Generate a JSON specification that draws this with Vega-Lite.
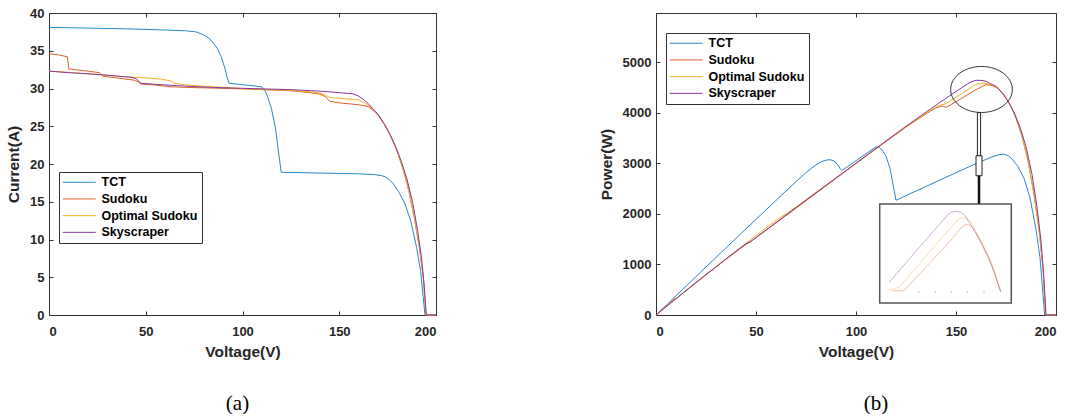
{
  "$schema": "https://vega.github.io/schema/vega-lite/v6.json",
  "background": "white",
  "padding": {"left": 6, "top": 6, "right": 5, "bottom": 0},
  "spacing": 159,
  "config": {
    "font": "Liberation Sans",
    "view": {"stroke": "#333333", "strokeWidth": 1},
    "axis": {
      "domain": false,
      "grid": false,
      "ticks": true,
      "tickSize": -4,
      "tickColor": "#333333",
      "tickWidth": 1,
      "labelFont": "Liberation Sans",
      "labelFontSize": 13,
      "labelFontWeight": "bold",
      "labelColor": "#262626",
      "titleFont": "Liberation Sans",
      "titleFontSize": 15.5,
      "titleFontWeight": "bold",
      "titleColor": "#262626"
    },
    "axisX": {"labelPadding": 14, "titlePadding": 6},
    "axisY": {"labelPadding": 9, "titlePadding": 8},
    "legend": {
      "title": null,
      "orient": "none",
      "symbolType": "M -3 0 H 3",
      "symbolSize": 121,
      "symbolOffset": 10,
      "symbolStrokeWidth": 1,
      "labelFont": "Liberation Sans",
      "labelFontSize": 12.5,
      "labelFontWeight": "bold",
      "labelColor": "#000000",
      "strokeColor": "#333333",
      "fillColor": "#ffffff",
      "padding": 4,
      "rowPadding": 3.7,
      "labelOffset": 16
    }
  },
  "datasets": {
    "curves": [
      {"s":"TCT","v":0,"i":38.1,"p":0},
      {"s":"TCT","v":20,"i":38.0,"p":760},
      {"s":"TCT","v":40,"i":37.9,"p":1516},
      {"s":"TCT","v":60,"i":37.75,"p":2265},
      {"s":"TCT","v":70,"i":37.65,"p":2636},
      {"s":"TCT","v":76,"i":37.5,"p":2850},
      {"s":"TCT","v":80,"i":37.1,"p":2968},
      {"s":"TCT","v":83,"i":36.6,"p":3038},
      {"s":"TCT","v":85,"i":36.0,"p":3060},
      {"s":"TCT","v":87,"i":35.3,"p":3071},
      {"s":"TCT","v":89,"i":34.2,"p":3044},
      {"s":"TCT","v":91,"i":32.6,"p":2967},
      {"s":"TCT","v":92,"i":31.5,"p":2898},
      {"s":"TCT","v":93,"i":30.7,"p":2855},
      {"s":"TCT","v":100,"i":30.5,"p":3050},
      {"s":"TCT","v":106,"i":30.35,"p":3217},
      {"s":"TCT","v":110,"i":30.2,"p":3322},
      {"s":"TCT","v":111.5,"i":29.8,"p":3323},
      {"s":"TCT","v":113,"i":28.9,"p":3266},
      {"s":"TCT","v":115,"i":27.3,"p":3140},
      {"s":"TCT","v":117,"i":24.8,"p":2902},
      {"s":"TCT","v":118.5,"i":21.8,"p":2583},
      {"s":"TCT","v":120,"i":18.9,"p":2268},
      {"s":"TCT","v":130,"i":18.85,"p":2451},
      {"s":"TCT","v":150,"i":18.75,"p":2813},
      {"s":"TCT","v":160,"i":18.7,"p":2992},
      {"s":"TCT","v":168,"i":18.6,"p":3125},
      {"s":"TCT","v":172,"i":18.45,"p":3173},
      {"s":"TCT","v":174,"i":18.28,"p":3181},
      {"s":"TCT","v":176,"i":17.9,"p":3150},
      {"s":"TCT","v":178,"i":17.35,"p":3088},
      {"s":"TCT","v":181,"i":16.2,"p":2932},
      {"s":"TCT","v":184,"i":14.7,"p":2705},
      {"s":"TCT","v":187,"i":12.4,"p":2319},
      {"s":"TCT","v":190,"i":8.9,"p":1691},
      {"s":"TCT","v":192,"i":5.9,"p":1133},
      {"s":"TCT","v":194.3,"i":0,"p":0},
      {"s":"TCT","v":200,"i":0,"p":0},

      {"s":"Sudoku","v":0,"i":34.6,"p":0},
      {"s":"Sudoku","v":5,"i":34.45,"p":172},
      {"s":"Sudoku","v":9.5,"i":34.2,"p":325},
      {"s":"Sudoku","v":10.2,"i":32.6,"p":333},
      {"s":"Sudoku","v":20,"i":32.3,"p":646},
      {"s":"Sudoku","v":26,"i":32.1,"p":835},
      {"s":"Sudoku","v":28,"i":31.6,"p":885},
      {"s":"Sudoku","v":35,"i":31.4,"p":1099},
      {"s":"Sudoku","v":44,"i":31.1,"p":1368},
      {"s":"Sudoku","v":46,"i":30.9,"p":1421},
      {"s":"Sudoku","v":47.5,"i":30.6,"p":1454},
      {"s":"Sudoku","v":55,"i":30.45,"p":1675},
      {"s":"Sudoku","v":62,"i":30.25,"p":1876},
      {"s":"Sudoku","v":70,"i":30.15,"p":2111},
      {"s":"Sudoku","v":85,"i":30.05,"p":2554},
      {"s":"Sudoku","v":100,"i":29.95,"p":2995},
      {"s":"Sudoku","v":115,"i":29.8,"p":3427},
      {"s":"Sudoku","v":125,"i":29.7,"p":3713},
      {"s":"Sudoku","v":135,"i":29.45,"p":3976},
      {"s":"Sudoku","v":140,"i":29.25,"p":4095},
      {"s":"Sudoku","v":143,"i":28.9,"p":4133},
      {"s":"Sudoku","v":145,"i":28.3,"p":4104},
      {"s":"Sudoku","v":150,"i":28.1,"p":4215},
      {"s":"Sudoku","v":160,"i":27.85,"p":4456},
      {"s":"Sudoku","v":165,"i":27.6,"p":4554},
      {"s":"Sudoku","v":168,"i":27.0,"p":4536},
      {"s":"Sudoku","v":171,"i":26.2,"p":4480},
      {"s":"Sudoku","v":174,"i":25.0,"p":4350},
      {"s":"Sudoku","v":177,"i":23.5,"p":4160},
      {"s":"Sudoku","v":180,"i":21.6,"p":3888},
      {"s":"Sudoku","v":183,"i":19.3,"p":3532},
      {"s":"Sudoku","v":186,"i":16.4,"p":3050},
      {"s":"Sudoku","v":189,"i":12.6,"p":2381},
      {"s":"Sudoku","v":191.5,"i":8.8,"p":1685},
      {"s":"Sudoku","v":193.5,"i":4.8,"p":929},
      {"s":"Sudoku","v":194.8,"i":0,"p":0},
      {"s":"Sudoku","v":200,"i":0,"p":0},

      {"s":"Optimal Sudoku","v":0,"i":32.3,"p":0},
      {"s":"Optimal Sudoku","v":10,"i":32.15,"p":322},
      {"s":"Optimal Sudoku","v":20,"i":31.95,"p":639},
      {"s":"Optimal Sudoku","v":30,"i":31.75,"p":953},
      {"s":"Optimal Sudoku","v":40,"i":31.55,"p":1262},
      {"s":"Optimal Sudoku","v":50,"i":31.4,"p":1570},
      {"s":"Optimal Sudoku","v":58,"i":31.25,"p":1813},
      {"s":"Optimal Sudoku","v":63,"i":31.0,"p":1953},
      {"s":"Optimal Sudoku","v":65,"i":30.7,"p":1996},
      {"s":"Optimal Sudoku","v":70,"i":30.5,"p":2135},
      {"s":"Optimal Sudoku","v":80,"i":30.3,"p":2424},
      {"s":"Optimal Sudoku","v":90,"i":30.15,"p":2714},
      {"s":"Optimal Sudoku","v":100,"i":30.0,"p":3000},
      {"s":"Optimal Sudoku","v":115,"i":29.85,"p":3433},
      {"s":"Optimal Sudoku","v":125,"i":29.75,"p":3719},
      {"s":"Optimal Sudoku","v":135,"i":29.55,"p":3989},
      {"s":"Optimal Sudoku","v":140,"i":29.4,"p":4116},
      {"s":"Optimal Sudoku","v":143,"i":29.1,"p":4161},
      {"s":"Optimal Sudoku","v":145,"i":28.8,"p":4176},
      {"s":"Optimal Sudoku","v":150,"i":28.7,"p":4305},
      {"s":"Optimal Sudoku","v":160,"i":28.5,"p":4560},
      {"s":"Optimal Sudoku","v":163,"i":28.1,"p":4580},
      {"s":"Optimal Sudoku","v":165,"i":27.75,"p":4579},
      {"s":"Optimal Sudoku","v":167,"i":27.3,"p":4559},
      {"s":"Optimal Sudoku","v":170,"i":26.5,"p":4505},
      {"s":"Optimal Sudoku","v":174,"i":25.05,"p":4359},
      {"s":"Optimal Sudoku","v":177,"i":23.55,"p":4168},
      {"s":"Optimal Sudoku","v":180,"i":21.65,"p":3897},
      {"s":"Optimal Sudoku","v":183,"i":19.35,"p":3541},
      {"s":"Optimal Sudoku","v":186,"i":16.45,"p":3060},
      {"s":"Optimal Sudoku","v":189,"i":12.65,"p":2391},
      {"s":"Optimal Sudoku","v":191.5,"i":8.85,"p":1695},
      {"s":"Optimal Sudoku","v":193.5,"i":4.85,"p":938},
      {"s":"Optimal Sudoku","v":194.8,"i":0,"p":0},
      {"s":"Optimal Sudoku","v":200,"i":0,"p":0},

      {"s":"Skyscraper","v":0,"i":32.3,"p":0},
      {"s":"Skyscraper","v":10,"i":32.1,"p":321},
      {"s":"Skyscraper","v":20,"i":31.95,"p":639},
      {"s":"Skyscraper","v":28,"i":31.8,"p":890},
      {"s":"Skyscraper","v":35,"i":31.65,"p":1108},
      {"s":"Skyscraper","v":42,"i":31.5,"p":1323},
      {"s":"Skyscraper","v":45,"i":31.3,"p":1409},
      {"s":"Skyscraper","v":47.5,"i":30.7,"p":1458},
      {"s":"Skyscraper","v":55,"i":30.55,"p":1680},
      {"s":"Skyscraper","v":65,"i":30.4,"p":1976},
      {"s":"Skyscraper","v":75,"i":30.25,"p":2269},
      {"s":"Skyscraper","v":90,"i":30.1,"p":2709},
      {"s":"Skyscraper","v":110,"i":29.95,"p":3295},
      {"s":"Skyscraper","v":125,"i":29.85,"p":3731},
      {"s":"Skyscraper","v":140,"i":29.65,"p":4151},
      {"s":"Skyscraper","v":150,"i":29.45,"p":4418},
      {"s":"Skyscraper","v":157,"i":29.3,"p":4600},
      {"s":"Skyscraper","v":160,"i":29.0,"p":4640},
      {"s":"Skyscraper","v":163,"i":28.45,"p":4637},
      {"s":"Skyscraper","v":165,"i":28.0,"p":4620},
      {"s":"Skyscraper","v":167,"i":27.4,"p":4576},
      {"s":"Skyscraper","v":170,"i":26.6,"p":4522},
      {"s":"Skyscraper","v":173,"i":25.4,"p":4394},
      {"s":"Skyscraper","v":176,"i":24.0,"p":4224},
      {"s":"Skyscraper","v":179,"i":22.4,"p":4010},
      {"s":"Skyscraper","v":182,"i":20.4,"p":3713},
      {"s":"Skyscraper","v":185,"i":18.0,"p":3330},
      {"s":"Skyscraper","v":188,"i":14.8,"p":2782},
      {"s":"Skyscraper","v":190.5,"i":11.2,"p":2134},
      {"s":"Skyscraper","v":192.5,"i":7.6,"p":1463},
      {"s":"Skyscraper","v":194,"i":3.6,"p":698},
      {"s":"Skyscraper","v":195,"i":0,"p":0},
      {"s":"Skyscraper","v":200,"i":0,"p":0}
    ],
    "inset": [
      {"s":"Sudoku","v":118.15,"p":480},
      {"s":"Sudoku","v":124,"p":480},
      {"s":"Sudoku","v":149,"p":1547},
      {"s":"Sudoku","v":152.5,"p":1725},
      {"s":"Sudoku","v":155,"p":1794},
      {"s":"Sudoku","v":157.5,"p":1765},
      {"s":"Sudoku","v":160,"p":1626},
      {"s":"Sudoku","v":163,"p":1409},
      {"s":"Sudoku","v":166.5,"p":1138},
      {"s":"Sudoku","v":169.5,"p":836},
      {"s":"Sudoku","v":172.35,"p":460},
      {"s":"Optimal Sudoku","v":116.5,"p":494},
      {"s":"Optimal Sudoku","v":121.5,"p":545},
      {"s":"Optimal Sudoku","v":145.5,"p":1646},
      {"s":"Optimal Sudoku","v":149.5,"p":1824},
      {"s":"Optimal Sudoku","v":152,"p":1913},
      {"s":"Optimal Sudoku","v":154.5,"p":1923},
      {"s":"Optimal Sudoku","v":157,"p":1864},
      {"s":"Optimal Sudoku","v":159,"p":1725},
      {"s":"Optimal Sudoku","v":162.5,"p":1468},
      {"s":"Optimal Sudoku","v":165.65,"p":1206},
      {"s":"Optimal Sudoku","v":169,"p":856},
      {"s":"Optimal Sudoku","v":172.35,"p":460},
      {"s":"Skyscraper","v":116.5,"p":644},
      {"s":"Skyscraper","v":141.5,"p":1785},
      {"s":"Skyscraper","v":145.5,"p":1962},
      {"s":"Skyscraper","v":147.5,"p":2032},
      {"s":"Skyscraper","v":150,"p":2051},
      {"s":"Skyscraper","v":152.5,"p":2032},
      {"s":"Skyscraper","v":154.5,"p":1962},
      {"s":"Skyscraper","v":158.15,"p":1731},
      {"s":"Skyscraper","v":161.5,"p":1508},
      {"s":"Skyscraper","v":164.85,"p":1237},
      {"s":"Skyscraper","v":167.5,"p":1014},
      {"s":"Skyscraper","v":169.85,"p":743},
      {"s":"Skyscraper","v":172.35,"p":460}
    ],
    "insetTicks": [
      {"v": 131.5, "p": 460},
      {"v": 139.85, "p": 460},
      {"v": 147.85, "p": 460},
      {"v": 155.65, "p": 460},
      {"v": 164, "p": 460}
    ]
  },
  "resolve": {"scale": {"color": "independent"}, "legend": {"color": "independent"}},
  "hconcat": [
    {
      "width": 387,
      "height": 302,
      "title": {"text": "(a)", "orient": "bottom", "font": "Liberation Serif", "fontSize": 21, "fontWeight": "normal", "color": "#000000", "dx": -5, "offset": 33, "baseline": "top"},
      "data": {"name": "curves"},
      "layer": [
        {
          "mark": {"type": "line", "strokeWidth": 1},
          "encoding": {
            "x": {"field": "v", "type": "quantitative", "scale": {"domain": [0, 200], "nice": false}, "axis": {"values": [0, 50, 100, 150, 200], "title": "Voltage(V)"}},
            "y": {"field": "i", "type": "quantitative", "scale": {"domain": [0, 40], "nice": false}, "axis": {"values": [0, 5, 10, 15, 20, 25, 30, 35, 40], "title": "Current(A)"}},
            "color": {"field": "s", "type": "nominal", "sort": null,
              "scale": {"domain": ["TCT", "Sudoku", "Optimal Sudoku", "Skyscraper"], "range": ["#2a87cc", "#e0602c", "#f0b22a", "#86389a"]},
              "legend": {"legendX": 10, "legendY": 159}}
          }
        },
        {
          "mark": {"type": "line", "opacity": 0},
          "encoding": {
            "x": {"field": "v", "type": "quantitative", "axis": {"orient": "top", "labels": false, "title": null, "values": [0, 50, 100, 150, 200]}},
            "y": {"field": "i", "type": "quantitative", "axis": {"orient": "right", "labels": false, "title": null, "values": [0, 5, 10, 15, 20, 25, 30, 35, 40]}}
          }
        }
      ],
      "resolve": {"axis": {"x": "independent", "y": "independent"}}
    },
    {
      "width": 400,
      "height": 302,
      "title": {"text": "(b)", "orient": "bottom", "font": "Liberation Serif", "fontSize": 21, "fontWeight": "normal", "color": "#000000", "dx": 20, "offset": 33, "baseline": "top"},
      "layer": [
        {
          "data": {"name": "curves"},
          "mark": {"type": "line", "strokeWidth": 1},
          "encoding": {
            "x": {"field": "v", "type": "quantitative", "scale": {"domain": [0, 200], "nice": false}, "axis": {"values": [0, 50, 100, 150, 200], "title": "Voltage(V)"}},
            "y": {"field": "p", "type": "quantitative", "scale": {"domain": [0, 5970], "nice": false}, "axis": {"values": [0, 1000, 2000, 3000, 4000, 5000], "format": "d", "title": "Power(W)"}},
            "color": {"field": "s", "type": "nominal", "sort": null,
              "scale": {"domain": ["TCT", "Sudoku", "Optimal Sudoku", "Skyscraper"], "range": ["#2a87cc", "#e0602c", "#f0b22a", "#86389a"]},
              "legend": {"legendX": 10, "legendY": 20}}
          }
        },
        {
          "data": {"name": "curves"},
          "mark": {"type": "line", "opacity": 0},
          "encoding": {
            "x": {"field": "v", "type": "quantitative", "axis": {"orient": "top", "labels": false, "title": null, "values": [0, 50, 100, 150, 200]}},
            "y": {"field": "p", "type": "quantitative", "axis": {"orient": "right", "labels": false, "title": null, "values": [0, 1000, 2000, 3000, 4000, 5000]}}
          }
        },
        {
          "data": {"values": [{"v1": 111.85, "v2": 177.65, "p1": 237, "p2": 2194}]},
          "mark": {"type": "rect", "fill": "#ffffff", "stroke": "#555555", "strokeWidth": 1.5},
          "encoding": {
            "x": {"field": "v1", "type": "quantitative", "axis": null},
            "x2": {"field": "v2"},
            "y": {"field": "p1", "type": "quantitative", "axis": null},
            "y2": {"field": "p2"}
          }
        },
        {
          "data": {"name": "insetTicks"},
          "mark": {"type": "point", "filled": true, "size": 2, "color": "#aaaaaa", "opacity": 1},
          "encoding": {
            "x": {"field": "v", "type": "quantitative", "axis": null},
            "y": {"field": "p", "type": "quantitative", "axis": null}
          }
        },
        {
          "data": {"name": "inset"},
          "mark": {"type": "line", "strokeWidth": 1, "opacity": 0.4},
          "encoding": {
            "x": {"field": "v", "type": "quantitative", "axis": null},
            "y": {"field": "p", "type": "quantitative", "axis": null},
            "color": {"field": "s", "type": "nominal", "sort": null,
              "scale": {"domain": ["TCT", "Sudoku", "Optimal Sudoku", "Skyscraper"], "range": ["#2a87cc", "#e0602c", "#f0b22a", "#86389a"]},
              "legend": null}
          }
        },
        {
          "data": {"values": [{"v": 162.75, "p": 4458}]},
          "mark": {"type": "point", "shape": "M -1 0 A 1 0.746 0 1 0 1 0 A 1 0.746 0 1 0 -1 0 Z", "size": 3807, "filled": false, "stroke": "#333333", "strokeWidth": 1, "opacity": 1},
          "encoding": {
            "x": {"field": "v", "type": "quantitative", "axis": null},
            "y": {"field": "p", "type": "quantitative", "axis": null}
          }
        },
        {
          "data": {"values": [{"v1": 160.7, "v2": 162.3, "p1": 3148, "p2": 4004}, {"v1": 160.0, "v2": 163.0, "p1": 2753, "p2": 3148}]},
          "mark": {"type": "rect", "fill": "#ffffff", "stroke": "#222222", "strokeWidth": 1},
          "encoding": {
            "x": {"field": "v1", "type": "quantitative", "axis": null},
            "x2": {"field": "v2"},
            "y": {"field": "p1", "type": "quantitative", "axis": null},
            "y2": {"field": "p2"}
          }
        },
        {
          "data": {"values": [{"v": 161.5, "p1": 2753, "p2": 2200}]},
          "mark": {"type": "rule", "stroke": "#111111", "strokeWidth": 2.5},
          "encoding": {
            "x": {"field": "v", "type": "quantitative", "axis": null},
            "y": {"field": "p1", "type": "quantitative", "axis": null},
            "y2": {"field": "p2"}
          }
        }
      ],
      "resolve": {"axis": {"x": "independent", "y": "independent"}}
    }
  ]
}
